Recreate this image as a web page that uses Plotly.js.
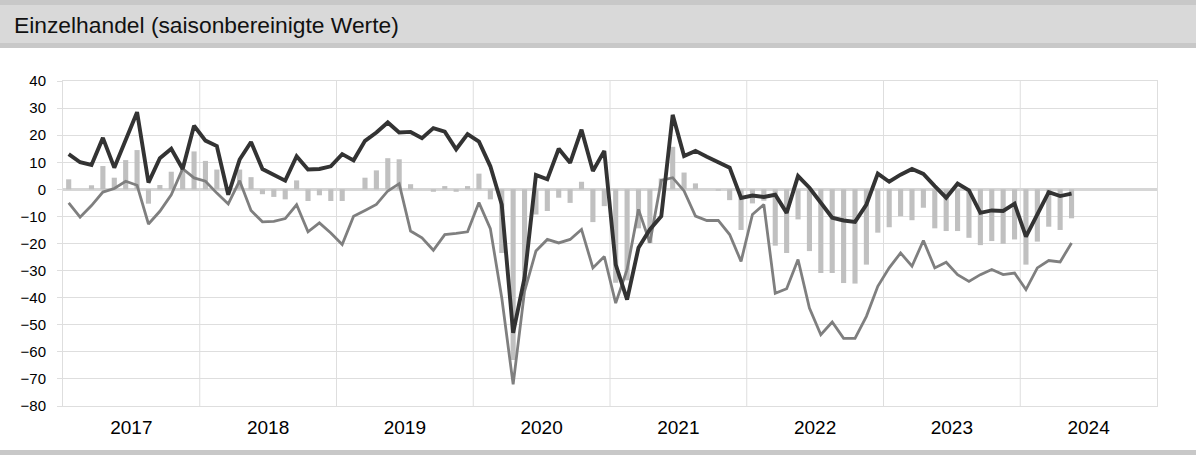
<!DOCTYPE html>
<html><head><meta charset="utf-8">
<script src="https://cdn.plot.ly/plotly-3.0.1.min.js"></script>
<style>
body{margin:0;background:#fff;}
#wrap{position:relative;width:1196px;height:455px;overflow:hidden;}
#chart{position:absolute;left:0;top:0;width:1196px;height:455px;}
#hdr{position:absolute;left:0;top:0;width:1196px;height:48px;background:#d9d9d9;border-top:5px solid #c8c8c8;border-bottom:5px solid #c8c8c8;box-sizing:border-box;}
#hdr span{position:absolute;left:14px;top:7px;font-family:"Liberation Sans",Arial,sans-serif;font-size:22.8px;line-height:26px;color:#111;white-space:nowrap;}
#ftr{position:absolute;left:0;top:450px;width:1196px;height:5px;background:#c8c8c8;}
</style>
</head><body>
<div id="wrap">
<div id="chart"></div>
<div id="hdr"><span>Einzelhandel (saisonbereinigte Werte)</span></div>
<div id="ftr"></div>
</div>
<script>
// Monthly values, Jan 2017 – May 2024
const years = ['2017','2018','2019','2020','2021','2022','2023','2024'];
const seriesBlack = [13,10,9,19,8,18,28.5,2.5,11.5,15,7.5,23.5,
 18,16,-2,11,17.5,7.5,5.5,3.2,12.2,7.3,7.5,8.5,
 13,10.7,17.9,21,24.7,21,21.2,18.9,22.6,21.3,14.8,20.4,
 17.6,8.5,-5.6,-53,-32.7,5.3,3.7,15,9.8,22,6.8,14.2,
 -27.8,-40.7,-21.6,-14.8,-9.9,27.5,12.3,14.2,12,9.9,8,-3.2,
 -2.3,-2.8,-2,-8.7,4.9,0.6,-5,-10.5,-11.5,-12,-5.6,5.8,
 2.8,5.4,7.5,5.7,1.2,-3.1,2.1,-0.4,-8.7,-7.8,-8,-5.3,
 -17.5,-9,-1,-2.5,-1.6];
const seriesGrey = [-5,-10.3,-6,-1,0.3,3,1.5,-12.8,-8.1,-2,7.6,4.2,
 3,-1.4,-5.4,3.2,-7.8,-12,-11.8,-10.8,-5.7,-15.7,-12.4,-16.1,
 -20.4,-9.9,-7.8,-5.6,-0.6,2.1,-15.4,-17.9,-22.5,-16.7,-16.3,-15.7,
 -4.9,-14.5,-40,-72,-37.7,-22.8,-18.5,-19.8,-18.5,-14.8,-29,-24.8,
 -42,-29.6,-7.4,-19.7,3.3,4.3,-0.6,-9.9,-11.5,-11.5,-16.7,-26.6,
 -9.3,-5.6,-38.4,-36.7,-25.9,-43.8,-53.7,-49,-55,-55,-46.9,-35.8,
 -29,-23.5,-28.4,-18.9,-29,-26.9,-31.5,-34,-31.5,-29.6,-31.5,-30.9,
 -37,-29,-26.3,-26.8,-19.8];
const seriesBars = [3.7,0,1.5,8.6,4.3,10.8,14.5,-5.3,1.6,6.5,7.5,14,
 10.5,7.3,0.5,7.3,4.5,-1.8,-2.8,-3.7,3.3,-4.3,-2.2,-4.3,
 -4.3,0,4.3,7,11.5,11.1,1.9,0,-0.9,1.2,-0.9,1.2,
 5.8,-3.7,-23.5,-63,-35,-9.3,-8,-3.1,-5,2.8,-12.1,-6.2,
 -34.5,-33.6,-14.4,-19.8,4,15.7,6.2,2.2,0,-0.5,-4,-15,
 -5.2,-4.2,-20.8,-23.5,-11.1,-22.8,-30.9,-30.9,-34.6,-34.8,-27.8,-16,
 -14,-9.9,-11.4,-6.8,-14.4,-15.4,-15.4,-17.9,-20.6,-19.1,-20.1,-18.5,
 -27.8,-19.3,-13.8,-15,-10.7];

const monthIdx = seriesBlack.map((_, i) => i);
const nMonths = years.length * 12;
const yearCenters = years.map((_, k) => k * 12 + 5.5);
const gridColor = '#dedede';

const shapes = years.slice(1).map((_, k) => ({
  type: 'line', xref: 'x', yref: 'paper',
  x0: (k + 1) * 12 - 0.5, x1: (k + 1) * 12 - 0.5, y0: 0, y1: 1,
  line: {color: gridColor, width: 1}, layer: 'below'
}));

const traces = [
  {type: 'bar', x: monthIdx, y: seriesBars, width: 0.45,
   marker: {color: '#c0c0c0', line: {width: 0}}, hoverinfo: 'skip'},
  {type: 'scatter', mode: 'lines', x: monthIdx, y: seriesGrey,
   line: {color: '#7f7f7f', width: 2.8}, hoverinfo: 'skip'},
  {type: 'scatter', mode: 'lines', x: monthIdx, y: seriesBlack,
   line: {color: '#333333', width: 3.9}, hoverinfo: 'skip'}
];

const layout = {
  width: 1196, height: 455,
  margin: {l: 63, r: 39, t: 81, b: 49, pad: 0},
  paper_bgcolor: '#ffffff', plot_bgcolor: '#ffffff',
  showlegend: false,
  font: {family: '"Liberation Sans", Arial, sans-serif', color: '#000'},
  xaxis: {
    range: [-0.5, nMonths - 0.5], tickvals: yearCenters, ticktext: years,
    showgrid: false, zeroline: false, ticks: '',
    showline: true, mirror: true, linecolor: gridColor, linewidth: 1,
    tickfont: {size: 19, color: '#000'}, ticklabelstandoff: 4, fixedrange: true
  },
  yaxis: {
    range: [-80, 40], dtick: 10, tick0: 0,
    showgrid: true, gridcolor: gridColor, gridwidth: 1,
    zeroline: true, zerolinecolor: '#d6d6d6', zerolinewidth: 3,
    ticks: 'outside', ticklen: 5, tickcolor: gridColor,
    showline: true, mirror: true, linecolor: gridColor, linewidth: 1,
    tickfont: {size: 15, color: '#000'}, ticklabelstandoff: 8, fixedrange: true
  },
  bargap: 0.55,
  shapes: shapes
};

Plotly.newPlot('chart', traces, layout, {displayModeBar: false, staticPlot: true});
</script>
</body></html>
